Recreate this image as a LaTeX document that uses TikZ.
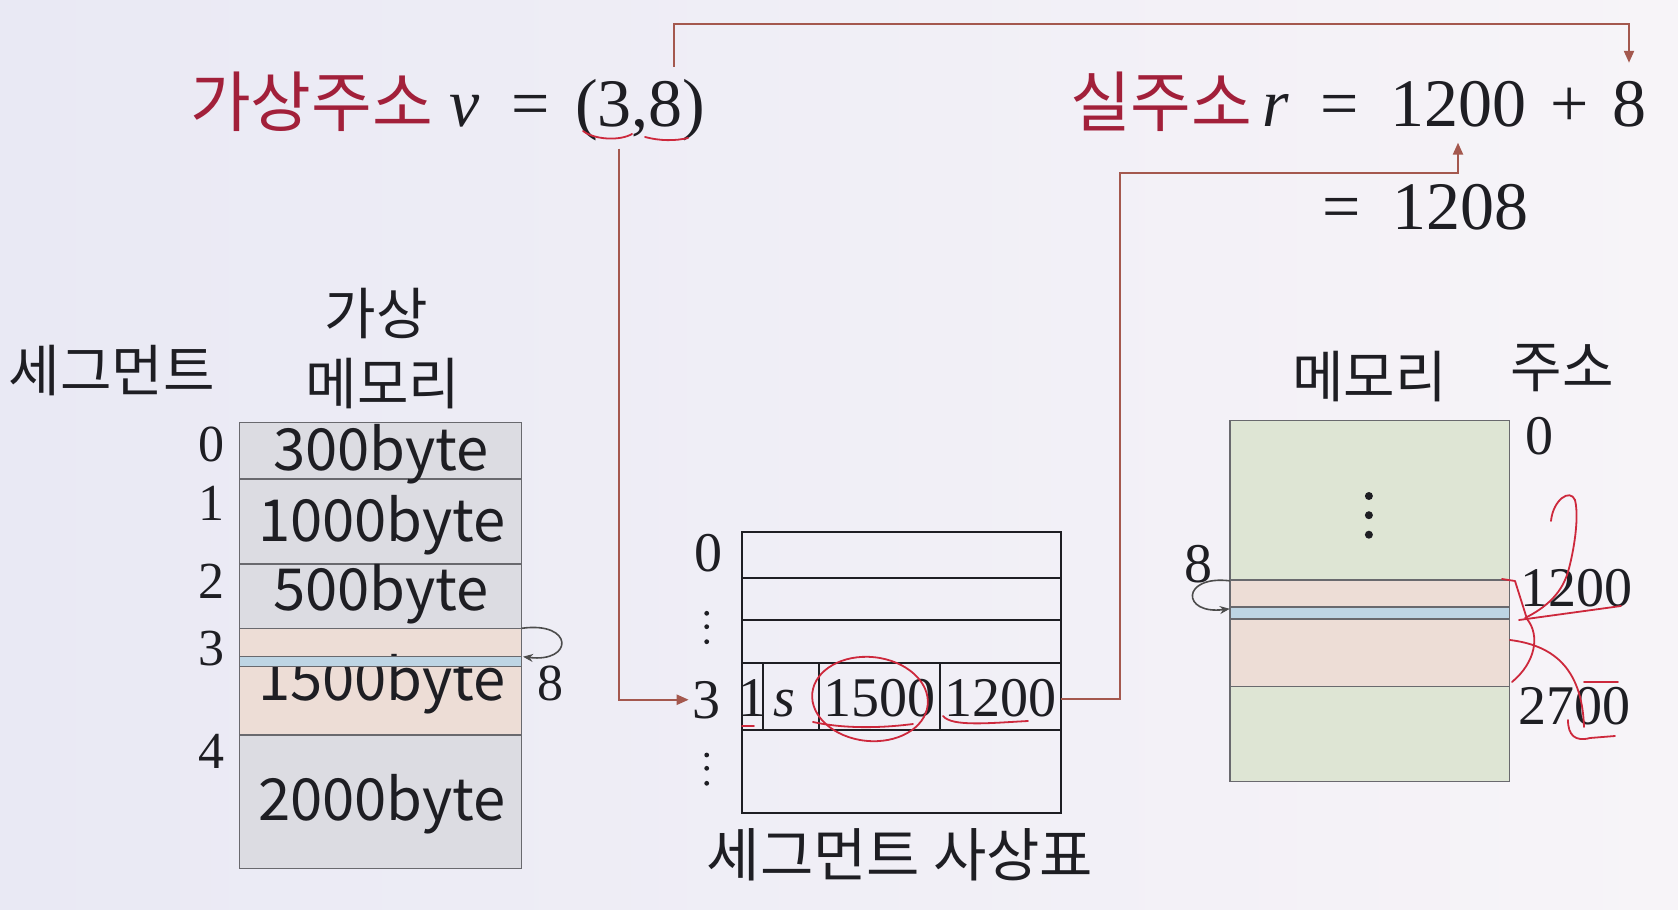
\documentclass[tikz,border=0pt]{standalone}
\usepackage{fontspec}
\setmainfont{Liberation Serif}
\newfontfamily\krf{Noto Sans CJK KR}
\usetikzlibrary{arrows.meta}
\definecolor{bgl}{RGB}{233,233,244}
\definecolor{bgr}{RGB}{247,244,248}
\definecolor{titlered}{RGB}{162,32,58}
\definecolor{arrowc}{RGB}{164,88,78}
\definecolor{annred}{RGB}{205,40,60}
\definecolor{gcell}{RGB}{220,220,226}
\definecolor{ocell}{RGB}{237,221,214}
\definecolor{gncell}{RGB}{222,229,212}
\definecolor{bstripe}{RGB}{190,213,228}
\definecolor{cellline}{RGB}{105,105,110}
\definecolor{ink}{RGB}{30,30,35}
\begin{document}
\begin{tikzpicture}[x=0.5pt,y=-0.5pt,
  every node/.style={inner sep=0pt,outer sep=0pt},
  kt/.style={font=\krf\fontsize{33}{36}\selectfont,text=titlered,anchor=base west},
  mt/.style={font=\fontsize{34}{40}\selectfont,anchor=base west,text=ink},
  ct/.style={font=\krf\fontsize{29}{32}\selectfont,anchor=base,text=ink},
  nl/.style={font=\fontsize{26}{30}\selectfont,anchor=base,text=ink},
  tn/.style={font=\fontsize{28}{32}\selectfont,anchor=base,text=ink},
  kl/.style={font=\krf\fontsize{28}{30}\selectfont,anchor=base,text=ink},
  conn/.style={draw=arrowc,line width=1.1pt},
  tipd/.style={-{Triangle[length=6pt,width=5pt]}},
  loopc/.style={draw=gray!60!black,line width=0.8pt,-{Stealth[length=5pt,width=4pt]}},
  vcell/.style={draw=cellline,line width=0.7pt},
  tline/.style={draw=ink,line width=1.1pt},
  annot/.style={draw=annred,line width=0.9pt,line cap=round,line join=round},
  dotf/.style={fill=ink}]
\shade[left color=bgl,right color=bgr] (0,0) rectangle (1678,910);
\useasboundingbox (0,0) rectangle (1678,910);

% ---- title: virtual address
\node[kt] (vk) at (190,126) {가상주소};
\node[mt] (vv) at (449,126) {\textit{v}};
\node[mt] (veq) at (511,126) {=};
\node[mt] (lp) at (575,126) {(};
\node[mt] (v3) at (lp.base east) {3};
\node[mt] (cm) at (v3.base east) {,};
\node[mt] (v8) at (cm.base east) {8};
\node[mt] (rp) at (v8.base east) {)};

% ---- title: real address
\node[kt] (rk) at (1070,126) {실주소};
\node[mt] (rr) at (1262,126) {\textit{r}};
\node[mt] (req) at (1320,126) {=};
\node[mt] (r1200) at (1390,126) {1200};
\node[mt] (rplus) at (1550,126) {+};
\node[mt] (r8) at (1612,126) {8};
\node[mt] (eq2) at (1322,229) {=};
\node[mt] (r1208) at (1392,229) {1208};

% ---- virtual memory
\filldraw[vcell,fill=gcell] (239.3,422.7) rectangle (521.7,479);
\filldraw[vcell,fill=gcell] (239.3,479) rectangle (521.7,564);
\filldraw[vcell,fill=gcell] (239.3,564) rectangle (521.7,628.3);
\filldraw[vcell,fill=ocell] (239.3,628.3) rectangle (521.7,735);
\filldraw[vcell,fill=gcell] (239.3,735) rectangle (521.7,868.3);
\node[ct] (b0) at (381,470) {300byte};
\node[ct] (b1) at (382,541.7) {1000byte};
\node[ct] (b2) at (381,610) {500byte};
\node[ct] (b3) at (382,700) {1500byte};
\node[ct] (b4) at (382,820) {2000byte};
\filldraw[vcell,fill=bstripe] (239.3,656.7) rectangle (521.7,666.7);
\node[nl] (l0) at (211.7,461.7) {0};
\node[nl] (l1) at (211.7,520) {1};
\node[nl] (l2) at (211.7,598.3) {2};
\node[nl] (l3) at (211.7,665) {3};
\node[nl] (l4) at (211.7,768.3) {4};
\node[nl] (v8lab) at (550,700) {8};
\coordinate (la) at (521.7,628.3);
\coordinate (lb) at (523,656.7);
\draw[loopc] (la) .. controls (574,621) and (574,663) .. (lb);
\node[kl] (seg) at (112,391) {세그먼트};
\node[kl] (ga) at (376,334) {가상};
\node[kl] (me) at (383,404) {메모리};

% ---- segment map table
\draw[tline] (741.7,532.3) rectangle (1060.7,812.7);
\draw[tline] (741.7,577.7) -- (1060.7,577.7);
\draw[tline] (741.7,620) -- (1060.7,620);
\draw[tline] (741.7,663.3) -- (1060.7,663.3);
\draw[tline] (741.7,730) -- (1060.7,730);
\draw[tline] (762.7,663.3) -- (762.7,730);
\draw[tline] (819.3,663.3) -- (819.3,730);
\draw[tline] (940,663.3) -- (940,730);
\node[tn] (s0) at (708.3,571) {0};
\node[tn] (s3) at (706.7,718) {3};
\foreach \yy in {613.3,626.7,641.7,755,768.3,783.3} \fill[dotf] (706.7,\yy) circle[radius=1.2pt];
\node[tn] (c1) at (752.5,716.7) {1};
\node[tn] (c2) at (784,716.7) {\textit{s}};
\node[tn] (c3) at (879.6,716.7) {1500};
\node[tn] (c4) at (1000,716.7) {1200};
\node[kl,font=\krf\fontsize{29}{32}\selectfont] (cap) at (900,876) {세그먼트 사상표};

% ---- physical memory
\filldraw[vcell,fill=gncell] (1229.8,420.2) rectangle (1509.6,579.8);
\filldraw[vcell,fill=ocell] (1229.8,579.8) rectangle (1509.6,686.2);
\filldraw[vcell,fill=gncell] (1229.8,686.2) rectangle (1509.6,781.2);
\filldraw[vcell,fill=bstripe] (1229.8,606.8) rectangle (1509.6,618.9);
\foreach \yy in {496,515.2,534.7} \fill[dotf] (1368.9,\yy) circle[radius=2pt];
\node[kl] (mem) at (1369.6,397) {메모리};
\node[kl] (addr) at (1562,387) {주소};
\node[tn] (a0) at (1539,454.6) {0};
\node[tn,anchor=base west] (a1200) at (1520,606) {1200};
\node[tn,anchor=base west] (a2700) at (1518,724) {2700};
\node[tn] (p8) at (1198.7,582.5) {8};
\coordinate (pa) at (1229.8,580.8);
\coordinate (pb) at (1229.8,608.8);
\draw[loopc] (pa) .. controls (1181,575) and (1181,615) .. (pb);

% ---- connectors
\coordinate (topy) at (0,24);
\draw[conn,tipd,shorten <=7pt,shorten >=9pt] ([xshift=4pt]v8.north) |- (r8.north |- topy) -- (r8.north);
\draw[conn,tipd,shorten <=11pt,shorten >=2pt] ([xshift=2pt]v3.south) |- (s3.west);
\coordinate (t3r) at (1060.7,699);
\coordinate (tbend) at (1120,173);
\draw[conn,tipd,shorten >=8pt] (t3r) -| (tbend) -| (r1200.south);

% ---- handwritten red marks
\draw[annot] (583,131) .. controls (595,140) and (620,141) .. (632,134);
\draw[annot] (645,137) .. controls (660,141) and (675,141) .. (688,138);
\draw[annot,rotate around={-6:(870,699)}] (870,699) ellipse [x radius=29pt,y radius=21pt];
\draw[annot] (813,722) .. controls (850,730) and (890,727) .. (913,724);
\draw[annot] (943,716) .. controls (952,727) and (990,723) .. (1028,721);
\draw[annot] (742,726) -- (754,726);
\draw[annot] (1551,521) .. controls (1553,500) and (1570,488) .. (1575,500) .. controls (1580,520) and (1572,560) .. (1567,575) .. controls (1560,595) and (1545,608) .. (1525,618);
\draw[annot] (1502,579) -- (1515,581) -- (1527,619) .. controls (1540,635) and (1536,662) .. (1512,682);
\draw[annot] (1519,620) -- (1621,606);
\draw[annot] (1510,640) .. controls (1550,645) and (1582,665) .. (1584,727);
\draw[annot] (1568,720) .. controls (1568,735) and (1575,742) .. (1590,738) -- (1615,736);
\draw[annot] (1584,682) -- (1618,682);
\end{tikzpicture}
\end{document}
